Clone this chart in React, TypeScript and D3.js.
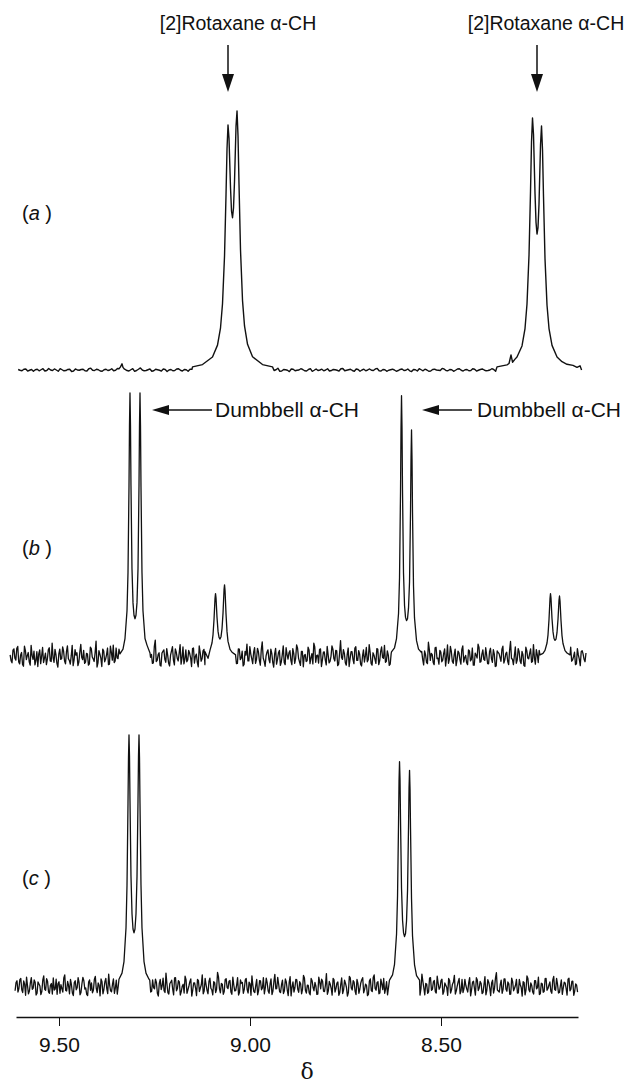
import React, { useEffect, useRef } from 'react';
import * as d3 from 'd3';

// chemical shift axis (ppm)
const shiftDomain = [9.6126, 8.1414];
const tickValues = [9.5, 9.0, 8.5];

// baseline noise, sampled every step ppm from start (intensity, 1000 = tallest line)
// each trace has two interleaved sample sets (second one shifted half a step)
const noiseAStart = 9.607;
const noiseAStep = 0.01;
const noiseA = [
  2,-3,4,-1,-5,3,1,-4,6,-2,0,5,-3,2,-6,4,-1,3,-4,7,
  -2,1,-5,3,0,-3,6,-1,2,-4,5,-2,8,-3,1,-5,3,-1,4,-6,
  2,-2,5,-4,1,3,-5,2,-1,6,-3,0,4,-6,2,-2,5,-1,-4,3,
  -1,6,-3,2,-5,4,0,-2,7,-4,1,-6,3,-1,5,-3,2,-5,4,0,
  -3,5,-2,1,-4,6,-1,3,-5,2,0,-3,4,-2,6,-4,1,-1,3,-5,
  2,-2,4,-6,1,5,-3,0,-4,3,-1,6,-2,2,-5,4,-1,1,-3,5,
  -4,2,0,-2,5,-5,3,-1,4,-3,1,6,-4,2,-2,5,-6,3,
  0,-3,4,-1,2,-5,3,1,-2,4,
];
const noiseA2 = [
  -1,3,-4,2,1,-3,5,-2,0,4,-5,1,-2,3,-4,0,2,-3,5,-1,
  3,-4,1,-2,5,-1,-3,4,-2,1,-5,3,0,-2,4,-3,1,-4,2,0,
  -3,4,-1,2,-5,3,0,-4,2,-1,5,-2,1,-3,4,-1,-2,3,-5,2,
  1,-3,4,-2,0,-4,3,1,-5,2,-1,4,-3,0,2,-4,5,-1,-2,3,
  0,-4,2,-1,5,-3,1,-2,4,-5,3,0,-1,4,-3,2,-5,1,0,-2,
  4,-1,-3,2,-4,1,3,-5,2,0,-2,4,-3,1,-1,5,-4,2,-2,3,
  -1,4,-3,0,2,-4,1,-2,5,-3,0,3,-1,-4,2,-2,4,-1,
  3,-2,0,-4,1,3,-1,-3,2,0,
];

const noiseBStart = 9.628;
const noiseBStep = 0.005;
const noiseB = [
  8,-22,31,-12,40,-26,17,-35,24,5,-18,44,-9,-30,20,12,-25,36,-4,-29,
  27,-15,52,-20,9,-38,30,-6,22,-26,42,-13,4,-33,28,16,-19,48,-10,-24,
  14,-31,37,0,-17,60,-22,11,-36,23,-8,34,-27,18,45,-15,-4,30,-38,20,
  -11,41,-25,13,28,-20,6,-32,50,-17,25,-6,-29,36,10,-22,64,-13,16,-34,
  21,-9,32,-24,7,39,-30,18,-15,47,-4,-26,27,-11,14,-36,34,2,-20,42,
  -16,23,-29,54,-8,12,-22,32,-13,6,37,-27,18,-6,28,-32,44,-18,9,-24,
  30,-4,-34,21,49,-15,11,-25,35,-9,20,-31,57,-16,4,27,-22,14,-38,33,
  -8,25,-18,42,-29,9,16,-13,32,-24,46,-4,-32,21,6,-17,37,-25,13,52,
  -20,7,28,-36,18,-11,40,-22,2,30,-15,23,-27,62,-9,14,-31,34,-6,20,
  -25,39,-13,11,-34,27,4,-18,47,-24,16,-8,32,-29,21,-2,44,-16,7,-27,
  35,-11,20,-32,51,-6,13,-22,28,-15,6,39,-25,18,-36,32,-9,23,-20,56,
  -13,9,-29,37,-4,25,-18,14,-34,46,-8,21,-24,30,-11,16,-27,42,-2,-22,
  27,-15,34,-31,7,49,-20,11,-9,35,-25,20,-6,28,-36,23,13,-16,41,-11,
  18,-29,59,-8,4,-24,32,-15,21,-32,37,-4,14,-20,47,-27,9,25,-13,34,
  -22,6,39,-18,28,-9,16,-34,44,-6,23,-25,13,53,-16,2,-29,32,-8,20,
  11,-18,
];
const noiseB2 = [
  -14,26,-5,33,-19,8,-28,41,-10,17,-31,6,22,-13,-36,27,3,-21,15,-8,
  35,-17,-3,29,-24,12,-9,38,-15,20,-6,-27,44,-11,7,-33,19,-2,25,-19,
  11,-26,32,-7,16,-38,24,-4,30,-18,9,-29,41,-12,-21,34,-6,13,-28,22,
  -3,-30,18,-9,37,-15,26,-22,5,-35,19,-11,28,-1,-24,40,-17,9,-31,15,
  27,-20,6,-34,23,-12,31,-5,14,-27,38,-9,-18,25,-3,32,-23,11,-37,18,
  -7,29,-14,21,-33,10,-26,43,-2,17,-21,8,-30,24,-12,36,-16,4,-25,31,
  -10,22,-28,7,-15,39,-6,18,-24,33,-13,28,-4,-35,19,-9,30,-20,12,-27,
  16,-32,9,-21,35,-8,24,-29,14,-5,33,-18,21,-37,10,-14,27,-3,-26,38,
  5,-23,31,-11,19,-30,8,-17,42,-6,25,-33,15,-2,28,-22,11,-36,20,-9,
  34,-13,24,-27,3,-19,36,-10,17,-31,7,-24,29,-14,38,-5,-20,23,-32,13,
  -18,30,-4,26,-35,12,-9,33,-22,16,-28,4,-15,37,-7,21,-30,9,-25,28,
  14,-21,35,-6,-27,19,-12,31,-3,-24,40,-16,8,-33,22,-10,29,-19,6,-29,
  23,-9,-31,15,-4,36,-18,27,-13,7,-26,33,-20,11,-34,17,-2,30,-23,13,
  -16,25,-6,-29,38,-12,20,-25,9,-35,24,-7,31,-17,-3,28,-21,16,-32,10,
  29,-14,4,-27,20,-8,34,-19,12,-30,26,-5,-23,37,-11,18,-26,8,-33,24,
  -9,15,
];

const noiseCStart = 9.615;
const noiseCStep = 0.005;
const noiseC = [
  -15,25,-6,34,-22,11,39,-27,16,-9,28,-32,20,4,-18,44,-13,23,-25,14,
  36,-8,-29,21,9,-20,48,-16,6,30,-24,18,-11,37,-31,13,25,-4,-34,28,
  16,-13,42,-22,7,32,-27,20,-6,51,-15,11,-25,27,2,-32,35,-9,21,-18,
  41,-11,14,-29,23,-2,34,-24,9,-16,46,-20,28,-7,18,-36,30,5,-15,55,
  -22,13,27,-31,37,-6,20,-18,11,43,-25,4,32,-13,16,-34,25,-4,48,-16,
  9,-27,35,-11,21,-22,58,-7,14,-29,30,-2,23,-20,39,-15,7,-32,28,18,
  -9,34,-24,13,44,-18,6,-31,25,-11,37,-4,16,-25,32,-16,50,-6,11,-22,
  27,-15,20,-34,41,0,-20,30,-9,21,-27,46,-13,7,-24,34,-2,18,-29,39,
  -7,23,-18,53,-15,11,-32,28,-6,20,-22,36,-11,14,-36,42,-4,25,-16,30,
  -25,16,37,-9,6,-29,32,-18,48,-13,21,-24,11,34,-7,-31,27,-15,44,-20,
  13,-6,28,-27,18,39,-16,7,-22,32,-11,23,-32,51,-4,14,-25,35,-13,20,
  -18,43,-9,25,-29,16,-2,34,-24,11,46,-15,21,-27,30,-7,6,-20,37,-11,
  23,-32,28,-4,14,-22,41,-13,18,-34,27,-6,57,-16,9,-25,32,-9,20,-29,
  35,-15,7,-24,30,-2,21,-31,44,-11,16,-20,25,-7,39,-27,13,-18,34,-6,
  20,-25,42,-13,11,-22,28,-4,16,-32,35,-9,23,-16,7,
];
const noiseC2 = [
  18,-20,29,-11,24,-33,6,-16,37,-4,19,-25,12,-30,27,-9,33,-19,7,-28,
  -12,31,14,-25,-6,36,-14,22,-27,9,-34,25,-3,17,-22,38,-8,-29,20,-13,
  -23,30,-5,16,-35,21,-10,34,-26,8,-19,32,-4,-28,24,-13,39,-20,11,-31,
  6,-24,33,-12,18,-30,9,-21,38,-7,27,-17,-2,31,-25,14,-10,35,-22,12,
  -28,19,-8,36,-15,25,-32,3,-24,29,-11,21,-36,16,-4,30,-18,9,-27,34,
  -13,22,-5,-31,17,-9,40,-23,11,-18,33,-6,26,-29,8,-14,37,-21,15,-25,
  28,-10,19,-33,6,-22,30,-14,24,-4,-27,35,-16,12,-30,21,-7,38,-19,9,
  -26,32,-12,17,-35,20,-3,28,-21,13,-9,36,-24,6,-31,25,-15,3,-28,19,
  31,-17,8,-29,22,-5,34,-20,15,-33,10,-26,27,-2,-22,36,-12,19,-30,14,
  -8,29,-23,11,-34,24,-14,38,-6,18,-27,31,-10,-25,21,-3,35,-18,9,-32,
  25,-12,-30,17,-4,33,-21,14,-36,9,-16,28,-7,22,-31,12,-19,37,-9,26,
  -24,15,-2,31,-18,7,-33,26,-11,20,-28,4,34,-15,-22,30,-8,17,-35,19,
  -6,37,-14,22,-26,10,-31,29,-3,16,-24,35,-12,-20,27,-9,32,-17,13,-28,
  21,-5,30,-23,9,-36,18,-11,34,-19,6,-28,25,-2,-30,15,-21,33,-13,8,
  -17,27,-10,34,-24,5,-29,19,-6,31,-15,22,-33,12,-20,
];

// (a) rotaxane alpha-CH doublets  [ppm, intensity]
const rotaxaneA1 = [
  [9.1505,12],[9.1243,21],[9.0982,50],[9.0851,96],[9.0772,163],[9.072,256],[9.0667,441],
  [9.0628,678],[9.0602,854],[9.0576,946],[9.055,895],[9.051,702],[9.0484,613],[9.0458,588],
  [9.0432,626],[9.0406,728],[9.0366,942],[9.034,1000],[9.0314,904],[9.0288,717],[9.0249,464],
  [9.0196,268],[9.0144,170],[9.0065,99],[8.9934,51],[8.9673,21],[8.9411,12],
];
const rotaxaneA2 = [
  [8.3534,12],[8.3272,20],[8.322,25],[8.3168,58],[8.3128,30],[8.3063,42],[8.3011,50],
  [8.288,93],[8.2801,160],[8.2749,255],[8.2696,445],[8.2657,690],[8.2631,880],[8.2605,973],
  [8.2579,910],[8.2539,680],[8.2513,570],[8.2487,525],[8.2461,550],[8.2435,640],[8.2395,870],
  [8.2369,942],[8.2343,850],[8.2317,670],[8.2278,430],[8.2225,250],[8.2173,160],[8.2094,95],
  [8.1963,50],[8.1833,32],[8.1702,22],[8.1545,18],[8.144,10],[8.1361,16],
];
const impurityA = [[9.343,5],[9.339,12],[9.3351,24],[9.3325,10],[9.3285,3]];

// (b) dumbbell + rotaxane
const dumbbellB1 = [
  [9.3404,12],[9.3325,30],[9.3273,70],[9.322,175],[9.3194,320],[9.3168,645],[9.3155,878],
  [9.3142,1000],[9.3129,880],[9.3116,650],[9.309,335],[9.3063,205],[9.3037,158],[9.3011,145],
  [9.2985,158],[9.2959,205],[9.2932,335],[9.2906,650],[9.2893,880],[9.288,1000],[9.2867,878],
  [9.2854,645],[9.2828,320],[9.2802,175],[9.2749,70],[9.2697,45],[9.2618,15],
];
const rotaxaneB1 = [
  [9.1178,20],[9.1099,-5],[9.1047,26],[9.0994,54],[9.0968,85],[9.0942,143],[9.0916,222],
  [9.0903,240],[9.089,224],[9.0864,150],[9.0837,97],[9.0811,74],[9.0785,68],[9.0759,77],
  [9.0733,107],[9.0706,168],[9.068,255],[9.0667,273],[9.0654,253],[9.0628,163],[9.0602,96],
  [9.0576,59],[9.0523,29],[9.0471,18],[9.0392,10],
];
const dumbbellB2 = [
  [8.6296,19],[8.6217,35],[8.6165,70],[8.6112,165],[8.6086,300],[8.606,625],[8.6047,865],
  [8.6034,990],[8.6021,868],[8.6008,632],[8.5982,318],[8.5955,195],[8.5929,150],[8.5903,138],
  [8.5877,145],[8.5851,185],[8.5824,285],[8.5798,555],[8.5785,755],[8.5772,860],[8.5759,752],
  [8.5746,548],[8.572,268],[8.5694,148],[8.5641,62],[8.5589,30],[8.551,17],
];
const rotaxaneB2 = [
  [8.2409,8],[8.233,14],[8.2278,25],[8.2225,53],[8.2199,84],[8.2173,142],[8.2147,221],
  [8.2134,240],[8.2121,223],[8.2095,147],[8.2068,95],[8.2042,70],[8.2016,63],[8.199,68],
  [8.1964,92],[8.1937,144],[8.1911,216],[8.1898,231],[8.1885,213],[8.1859,138],[8.1833,81],
  [8.1807,51],[8.1754,24],[8.1702,15],[8.1623,8],
];

// (c) dumbbell only
const dumbbellC1 = [
  [9.343,31],[9.3351,55],[9.3299,101],[9.3246,235],[9.322,405],[9.3194,728],[9.3181,912],
  [9.3168,1000],[9.3155,918],[9.3142,740],[9.3116,440],[9.3089,290],[9.3063,230],[9.3037,215],
  [9.3011,230],[9.2985,290],[9.2958,440],[9.2932,740],[9.2919,918],[9.2906,1000],[9.2893,912],
  [9.288,728],[9.2854,405],[9.2828,235],[9.2775,101],[9.2723,55],[9.2644,31],
];
const dumbbellC2 = [
  [8.6348,27],[8.6269,48],[8.6217,90],[8.6164,210],[8.6138,362],[8.6112,650],[8.6099,816],
  [8.6086,894],[8.6073,822],[8.606,662],[8.6034,392],[8.6007,265],[8.5981,215],[8.5955,200],
  [8.5929,212],[8.5903,262],[8.5876,385],[8.585,640],[8.5837,790],[8.5824,860],[8.5811,786],
  [8.5798,628],[8.5772,350],[8.5746,203],[8.5693,88],[8.5641,45],[8.5562,27],
];

type Pt = [number, number];
type Series = [number, number, number[]];

function buildTrace(series: Series[], peaks: number[][][]): Pt[] {
  const base: Pt[] = series.flatMap(([start, step, vals]) => vals.map((v, i) => [start - i * step, v] as Pt));
  const windows = peaks.map((p) => d3.extent(p, (d) => d[0]) as [number, number]);
  const kept = base.filter(([x]) => !windows.some(([lo, hi]) => x >= lo && x <= hi));
  const all = kept.concat(...(peaks as Pt[][]));
  return all.sort((a, b) => b[0] - a[0]);
}

const panels = [
  {
    id: 'a',
    trace: buildTrace(
      [[noiseAStart, noiseAStep, noiseA], [noiseAStart - noiseAStep / 2, noiseAStep, noiseA2]],
      [rotaxaneA1, rotaxaneA2, impurityA]
    ),
    base: 370, top: 111, labelY: 220, sw: 1.4,
  },
  {
    id: 'b',
    trace: buildTrace(
      [[noiseBStart, noiseBStep, noiseB], [noiseBStart - noiseBStep / 2, noiseBStep, noiseB2]],
      [dumbbellB1, rotaxaneB1, dumbbellB2, rotaxaneB2]
    ),
    base: 657, top: 393, labelY: 555, sw: 1.3,
  },
  {
    id: 'c',
    trace: buildTrace(
      [[noiseCStart, noiseCStep, noiseC], [noiseCStart - noiseCStep / 2, noiseCStep, noiseC2]],
      [dumbbellC1, dumbbellC2]
    ),
    base: 987, top: 735, labelY: 885, sw: 1.3,
  },
];

const FONT = '"Liberation Sans", Arial, Helvetica, sans-serif';

const App = () => {
  const axisRef = useRef<SVGGElement>(null);
  const x = d3.scaleLinear().domain(shiftDomain).range([16, 578]);

  useEffect(() => {
    const g = d3.select(axisRef.current);
    g.selectAll('*').remove();
    g.call(
      d3.axisBottom(x)
        .tickValues(tickValues)
        .tickFormat(d3.format('.2f'))
        .tickSize(9)
        .tickSizeOuter(0)
        .tickPadding(11)
    );
    g.select('.domain').attr('stroke', '#111').attr('stroke-width', 1.4);
    g.selectAll('.tick line').attr('stroke', '#111').attr('stroke-width', 1);
    g.selectAll('.tick text').attr('font-size', 21).attr('font-family', FONT).attr('fill', '#111');
  }, []);

  const downArrow = (cx: number) => (
    <g key={cx}>
      <line x1={cx} x2={cx} y1={45} y2={76} stroke="#111" strokeWidth={1.5} />
      <path d={`M${cx - 6},74 L${cx + 6},74 L${cx},92 Z`} fill="#111" />
    </g>
  );
  const leftArrow = (tip: number, tail: number, y: number) => (
    <g key={tip}>
      <line x1={tip + 14} x2={tail} y1={y} y2={y} stroke="#111" strokeWidth={1.5} />
      <path d={`M${tip},${y} L${tip + 17},${y - 5} L${tip + 17},${y + 5} Z`} fill="#111" />
    </g>
  );

  return (
    <svg width={629} height={1088} style={{ position: 'absolute', left: 0, top: 0, background: '#fff' }}>
      <rect width={629} height={1088} fill="#fff" />
      {panels.map((p) => {
        const y = d3.scaleLinear().domain([0, 1000]).range([p.base, p.top]);
        const line = d3.line<Pt>().x((d) => x(d[0])).y((d) => y(d[1]));
        return (
          <g key={p.id}>
            <path d={line(p.trace) || ''} fill="none" stroke="#111" strokeWidth={p.sw} strokeLinejoin="round" />
            <text x={22} y={p.labelY} fontFamily={FONT} fontSize={20} fill="#111">
              (<tspan fontStyle="italic">{p.id}</tspan> )
            </text>
          </g>
        );
      })}

      {/* annotations */}
      <text x={238} y={30} textAnchor="middle" fontFamily={FONT} fontSize={19.5} fill="#111">[2]Rotaxane α-CH</text>
      <text x={546} y={30} textAnchor="middle" fontFamily={FONT} fontSize={19.5} fill="#111">[2]Rotaxane α-CH</text>
      {downArrow(228)}
      {downArrow(537)}
      {leftArrow(152, 212, 410)}
      {leftArrow(422, 472, 410)}
      <text x={215} y={417} fontFamily={FONT} fontSize={21} fill="#111">Dumbbell α-CH</text>
      <text x={477} y={417} fontFamily={FONT} fontSize={21} fill="#111">Dumbbell α-CH</text>

      <g ref={axisRef} transform="translate(0,1017)" />
      <text x={307} y={1079} textAnchor="middle" fontFamily='"DejaVu Serif", "Liberation Serif", serif' fontSize={22} fill="#111">δ</text>
    </svg>
  );
};

export default App;
